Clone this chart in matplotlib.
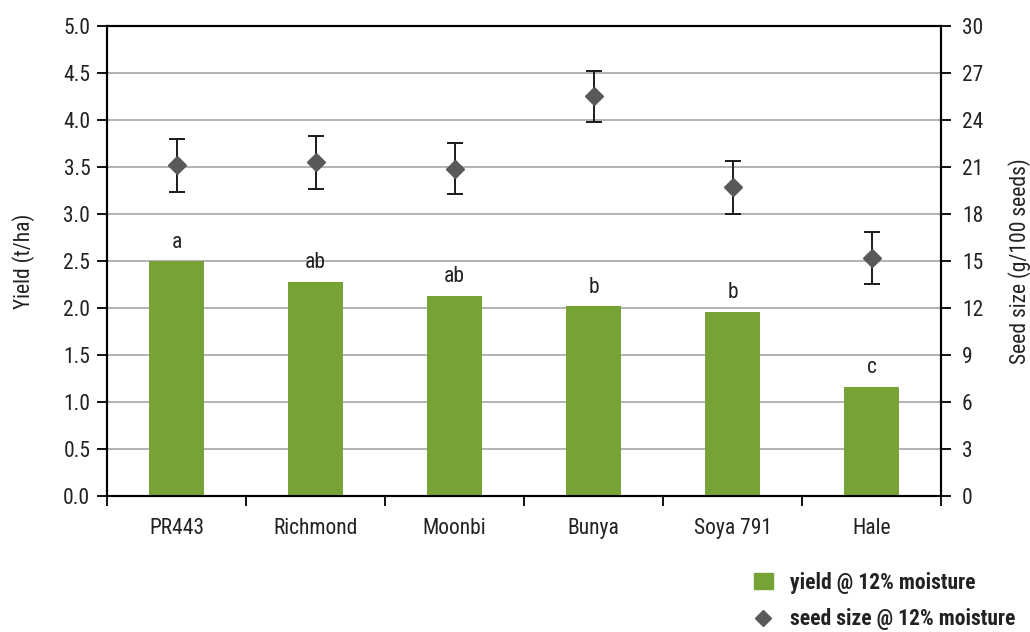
import matplotlib
matplotlib.use("Agg")
import matplotlib.pyplot as plt
from matplotlib import font_manager
import numpy as np
from matplotlib.lines import Line2D
from matplotlib.patches import Patch

# pick a narrow face if one is around
fam_names = set(f.name for f in font_manager.fontManager.ttflist)
narrow = 'DejaVu Sans'
for cand in ['Liberation Sans Narrow', 'Roboto Condensed', 'DejaVu Sans Condensed']:
    if cand in fam_names:
        narrow = cand
        break

plt.rcParams['font.family'] = [narrow, 'DejaVu Sans']

varieties = ['PR443', 'Richmond', 'Moonbi', 'Bunya', 'Soya 791', 'Hale']
yield_t = [2.50, 2.28, 2.13, 2.02, 1.96, 1.16]
letters = ['a', 'ab', 'ab', 'b', 'b', 'c']
seed_size = [21.1, 21.3, 20.9, 25.5, 19.7, 15.2]
seed_err = [1.7, 1.7, 1.65, 1.65, 1.7, 1.65]

green = '#77a236'
grey = '#595959'
txt = '#222222'
fs = 15.5

fig = plt.figure(figsize=(10.3, 6.32), dpi=100)
ax = fig.add_axes([0.1039, 0.2152, 0.8097, 0.7437])
ax2 = ax.twinx()

x = np.arange(len(varieties))
ax.bar(x, yield_t, width=0.4, color=green, zorder=3)
for xi, v, l in zip(x, yield_t, letters):
    ax.text(xi, v + 0.09, l, ha='center', va='bottom', fontsize=fs, color=txt)

ax.set_xlim(-0.5, len(varieties) - 0.5)
ax.set_ylim(0, 5)
ax.set_yticks(np.arange(0, 5.01, 0.5))
ax.set_yticklabels(['%.1f' % t for t in np.arange(0, 5.01, 0.5)])
ax.set_xticks(x)
ax.set_xticklabels(varieties)
ax.set_xticks(np.arange(-0.5, len(varieties)), minor=True)
ax.tick_params(axis='x', which='major', length=0, pad=16, labelsize=fs, labelcolor=txt)
ax.tick_params(axis='x', which='minor', length=7, width=1.3, direction='out')
ax.tick_params(axis='y', length=7, width=1.3, direction='out', labelsize=fs, labelcolor=txt, pad=5)
ax.yaxis.grid(True, color='#a6a6a6', linewidth=1.2, zorder=0)
ax.set_axisbelow(True)
ax.set_ylabel('Yield (t/ha)', fontsize=fs, color=txt, labelpad=20)

ax2.errorbar(x, seed_size, yerr=seed_err, fmt='D', color=grey, markersize=9,
             ecolor='#1a1a1a', elinewidth=1.4, capsize=6, capthick=1.4, zorder=4)
ax2.set_ylim(0, 30)
ax2.set_yticks(np.arange(0, 31, 3))
ax2.tick_params(axis='y', length=7, width=1.3, direction='out', labelsize=fs, labelcolor=txt, pad=8)
ax2.set_ylabel('Seed size (g/100 seeds)', fontsize=fs, color=txt, labelpad=18)

for a in (ax, ax2):
    for s in a.spines.values():
        s.set_linewidth(1.5)
        s.set_color('black')

handles = [Patch(color=green),
           Line2D([], [], marker='D', color=grey, linestyle='none', markersize=8)]
fig.legend(handles, ['yield @ 12% moisture', 'seed size @ 12% moisture'],
           loc='upper left', bbox_to_anchor=(0.713, 0.126), frameon=False,
           prop={'size': fs, 'weight': 'bold'}, handlelength=0.9, handleheight=0.8,
           labelspacing=0.68, handletextpad=0.8, labelcolor=txt)

fig.savefig('out.png', dpi=100)
